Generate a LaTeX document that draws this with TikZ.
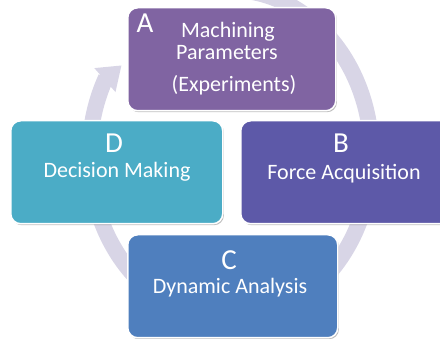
\documentclass[tikz,border=0pt]{standalone}
\usepackage{fontspec}
\setmainfont{Carlito}
\usetikzlibrary{shadows,calc}
\definecolor{ringc}{RGB}{216,213,230}
\definecolor{colA}{RGB}{128,100,162}
\definecolor{colB}{RGB}{93,89,168}
\definecolor{colC}{RGB}{79,127,190}
\definecolor{colD}{RGB}{75,172,198}
\begin{document}
\begin{tikzpicture}[x=1pt,y=-1pt,
  box/.style={draw=white, line width=1.5pt, rounded corners=10pt,
    minimum width=208pt, minimum height=103pt, anchor=north west, inner sep=0pt,
    drop shadow={shadow xshift=1.2pt, shadow yshift=-1.5pt, opacity=0.25, fill=black}},
  big/.style={text=white, font=\fontsize{29}{31}\selectfont, inner sep=0pt, anchor=base},
  lbl/.style={text=white, font=\fontsize{22}{24}\selectfont, inner sep=0pt, anchor=base},
  band/.style={draw=ringc, line width=16pt}]
\useasboundingbox (0,0) rectangle (440,339);
\clip (0,0) rectangle (440,339);
% cycle ring
\draw[band] plot[domain=95:-208, samples=150, smooth] ({230.5+141*cos(\x)},{155-165*sin(\x)});
\fill[ringc] (94.3,68.1) -- (121.4,65.5) -- (115.5,92.1) -- cycle;
% boxes
\node[box, fill=colA] (boxA) at (127,7) {};
\node[box, fill=colD, minimum width=212pt] (boxD) at (10,120) {};
\node[box, fill=colB, minimum width=212pt] (boxB) at (240,120) {};
\node[box, fill=colC, minimum width=210pt] (boxC) at (127,234) {};
% texts
\node[big] (letA) at (145,33) {A};
\node[lbl] (tA1) at (228,38) {Machining};
\node[lbl] (tA2) at (227,60) {Parameters};
\node[lbl] (tA3) at (234,92) {(Experiments)};
\node[big] (letD) at (114,153) {D};
\node[lbl] (tD) at (117,178) {Decision Making};
\node[big] (letB) at (341,153) {B};
\node[lbl] (tB) at (344,180) {Force Acquisition};
\node[big] (letC) at (229,270) {C};
\node[lbl] (tC) at (230,294) {Dynamic Analysis};
\end{tikzpicture}
\end{document}
